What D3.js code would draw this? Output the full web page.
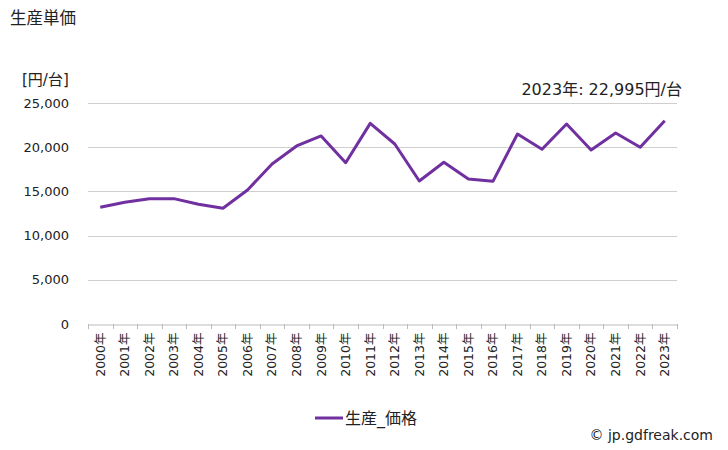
<!DOCTYPE html>
<html><head><meta charset="utf-8">
<script src="https://cdn.jsdelivr.net/npm/d3@7"></script>
<style>body{margin:0;background:#fff;} text{font-family:"DejaVu Sans","Noto Sans CJK JP",sans-serif;}</style>
</head><body><svg id="c" width="728" height="450"></svg>
<script>
const years = ["2000年","2001年","2002年","2003年","2004年","2005年","2006年","2007年","2008年","2009年","2010年","2011年","2012年","2013年","2014年","2015年","2016年","2017年","2018年","2019年","2020年","2021年","2022年","2023年"];
const values = [13200,13770,14180,14180,13540,13090,15160,18100,20140,21270,18250,22700,20360,16180,18290,16400,16140,21490,19760,22620,19680,21600,19990,22995];
const yTicks = [0,5000,10000,15000,20000,25000];
const seriesName = "生産_価格";
const title = "生産単価";
const unit = "[円/台]";
const note = "2023年: 22,995円/台";

const FF = "\"DejaVu Sans\",\"Noto Sans CJK JP\",sans-serif";
const svg = d3.select("#c");
const L=88,R=677,T=103,B=324;
const x = d3.scaleBand().domain(years).range([L,R]);
const y = d3.scaleLinear().domain([0,25000]).range([B,T]);

svg.append("text").attr("x",10).attr("y",24).attr("font-size",16.5).attr("fill","#222").text(title);
svg.append("text").attr("x",22).attr("y",85).attr("font-size",15).attr("fill","#222").text(unit);

// grid
svg.append("g").selectAll("line").data(yTicks.filter(d=>d>0)).join("line")
  .attr("x1",L).attr("x2",R).attr("y1",d=>Math.round(y(d))+0.5).attr("y2",d=>Math.round(y(d))+0.5)
  .attr("stroke","#cfcfcf").attr("stroke-width",1);

// y axis labels
const ya = svg.append("g").attr("transform",`translate(${L},0)`)
  .call(d3.axisLeft(y).tickValues(yTicks).tickSize(0).tickPadding(19).tickFormat(d3.format(",")));
ya.select(".domain").remove();
ya.selectAll("text").attr("font-size",13).attr("fill","#222").attr("font-family",FF);

// x axis
const xa = svg.append("g").attr("transform",`translate(0,${B+0.5})`)
  .call(d3.axisBottom(x).tickSize(0).tickPadding(0));
xa.select(".domain").attr("stroke","#bbb");
const edges = years.map(d=>x(d)).concat([R]);
svg.append("g").selectAll("line").data(edges).join("line")
  .attr("x1",d=>Math.round(d)+0.5).attr("x2",d=>Math.round(d)+0.5).attr("y1",B).attr("y2",B+5)
  .attr("stroke","#bbb");
xa.selectAll("text").attr("font-size",12.5).attr("fill","#222")
  .attr("font-family",FF)
  .attr("transform","rotate(-90)").attr("text-anchor","end")
  .attr("x",-8).attr("y",0).attr("dy","0.35em").attr("dx",0);

// line
const line = d3.line().x((d,i)=>x(years[i])+x.bandwidth()/2).y(d=>y(d));
svg.append("path").datum(values).attr("d",line).attr("fill","none")
  .attr("stroke","#7030A0").attr("stroke-width",3).attr("stroke-linejoin","round");

svg.append("text").attr("x",682).attr("y",95).attr("text-anchor","end").attr("font-size",16).attr("fill","#222").text(note);

// legend
svg.append("line").attr("x1",315).attr("x2",343).attr("y1",418).attr("y2",418).attr("stroke","#7030A0").attr("stroke-width",3);
svg.append("text").attr("x",345).attr("y",424).attr("font-size",16).attr("fill","#222").text(seriesName);

svg.append("text").attr("x",713).attr("y",440).attr("text-anchor","end").attr("font-size",14).attr("fill","#222").text("© jp.gdfreak.com");
</script></body></html>
